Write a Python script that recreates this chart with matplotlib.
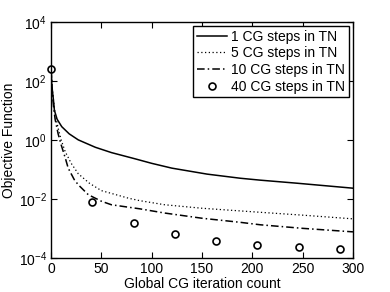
import matplotlib
matplotlib.use("Agg")
import matplotlib.pyplot as plt
import numpy as np

plt.rcParams['font.family'] = ['Liberation Sans', 'DejaVu Sans']
plt.rcParams['mathtext.fontset'] = 'custom'
plt.rcParams['mathtext.rm'] = 'Liberation Sans'
plt.rcParams['mathtext.it'] = 'Liberation Sans:italic'
plt.rcParams['mathtext.bf'] = 'Liberation Sans:bold'

# 1 CG step
x1 = [0, 0.7, 2.3, 3.3, 6, 10.6, 18, 27, 44, 60, 83, 100, 120, 155, 188, 208, 244, 300]
y1 = [251, 72, 23, 10, 5.0, 2.8, 1.6, 1.0, 0.56, 0.37, 0.23, 0.16, 0.11, 0.069, 0.050, 0.043, 0.034, 0.023]

# 5 CG steps
x5 = [0, 1, 2.5, 4, 7, 10, 14, 20, 27, 38, 50, 77, 88, 113, 150, 188, 208, 250, 300]
y5 = [251, 63, 20, 7.9, 2.5, 1.0, 0.40, 0.16, 0.071, 0.034, 0.019, 0.0105, 0.0087, 0.0063, 0.0048, 0.0039, 0.0035, 0.0028, 0.0021]

# 10 CG steps
x10 = [0, 1, 2.5, 4, 7, 10, 14, 17, 23, 27, 37, 50, 60, 88, 113, 150, 188, 208, 250, 300]
y10 = [251, 50, 12.6, 5.0, 1.6, 0.68, 0.25, 0.11, 0.045, 0.030, 0.0138, 0.0083, 0.0063, 0.0046, 0.0033, 0.0022, 0.0016, 0.00132, 0.0010, 0.00076]

# 40 CG steps
x40 = [0, 41, 82, 123, 164, 205, 246, 287]
y40 = [251, 0.0081, 0.0015, 0.00063, 0.00038, 0.00027, 0.00023, 0.00020]

labels = ['1 CG steps in TN', '5 CG steps in TN', '10 CG steps in TN', '40 CG steps in TN']
xticks = [0, 50, 100, 150, 200, 250, 300]
yticks = [1e-4, 1e-2, 1e0, 1e2, 1e4]

fig = plt.figure(figsize=(3.9, 2.92), dpi=100)
ax = fig.add_axes([0.131, 0.117, 0.774, 0.808])

ax.semilogy(x1, y1, color='black', lw=1.1, linestyle='-', label=labels[0])
ax.semilogy(x5, y5, color='black', lw=0.9, linestyle=(0, (1, 2)), label=labels[1])
ax.semilogy(x10, y10, color='black', lw=1.1, linestyle=(0, (5, 2, 1, 2)), label=labels[2])
ax.semilogy(x40, y40, color='black', linestyle='none', marker='o', markersize=5,
            markerfacecolor='none', markeredgewidth=1.2, label=labels[3], clip_on=False)

ax.set_xlim(0, 300)
ax.set_ylim(1e-4, 1e4)
ax.set_xticks(xticks)
ax.set_yticks(yticks)
ax.minorticks_off()
ax.tick_params(direction='in', top=True, right=True, length=4, width=0.8, labelsize=10, pad=3)
for s in ax.spines.values():
    s.set_linewidth(1.0)

ax.set_xlabel('Global CG iteration count', fontsize=10, labelpad=1)
ax.set_ylabel('Objective Function', fontsize=10, labelpad=2)

leg = ax.legend(loc='upper right', fontsize=10, frameon=True, fancybox=False,
                edgecolor='black', framealpha=1, borderpad=0.25, labelspacing=0.2,
                handlelength=2.2, handletextpad=0.3, borderaxespad=0.3)
leg.get_frame().set_linewidth(1.0)

fig.savefig('out.png', dpi=100)
